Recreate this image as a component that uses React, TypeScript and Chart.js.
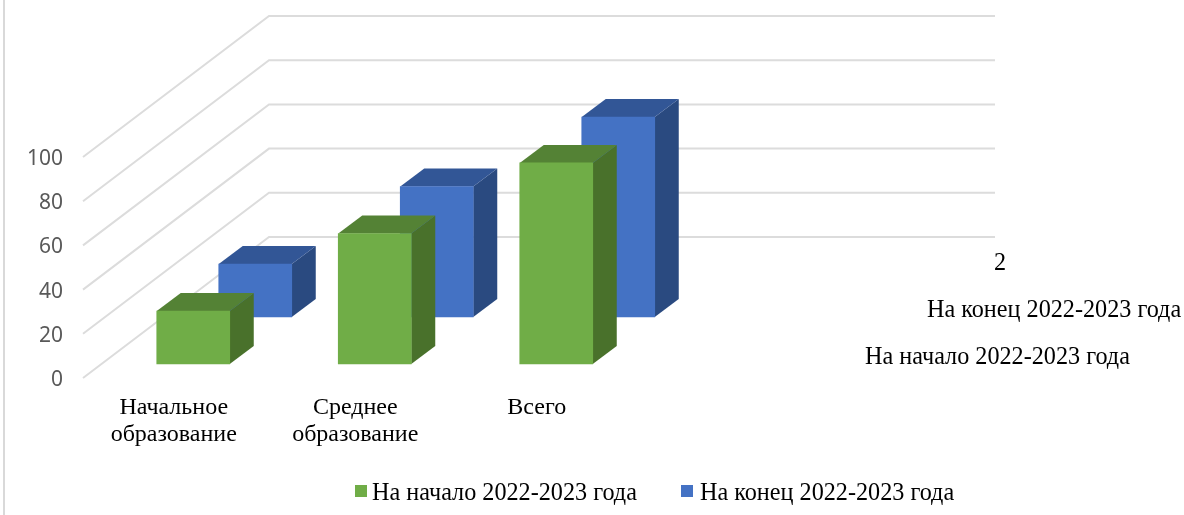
import React, { useEffect, useRef } from "react";
import { Chart, registerables } from "chart.js";

Chart.register(...registerables);

const categories: (string | string[])[] = [["Начальное", "образование"], ["Среднее", "образование"], "Всего", ""];
const seriesStartLabel = "На начало 2022-2023 года";
const seriesEndLabel = "На конец 2022-2023 года";
const seriesStart = [24, 59, 91, null];
const seriesEnd = [24, 59, 90.5, null];
const yTicks = [0, 20, 40, 60, 80, 100];
const depthLabels = [
  { text: seriesStartLabel, x: 865, y: 358 },
  { text: seriesEndLabel, x: 927, y: 311 },
  { text: "2", x: 994, y: 264 },
];

const SERIF = '"Liberation Serif", serif';
const WALL_DX = 186;
const WALL_DY = 141;
const WALL_RIGHT = 995;
const BAR_DX = 24;
const BAR_DY = 18;
const GRID = "#dcdcdc";

// x/y shift of each series inside the 3D box, plus its side and top shades
const looks = [
  { dx: 19.5, dy: -14, front: "#70AD47", side: "#49712B", top: "#548235" },
  { dx: 81.5, dy: -61, front: "#4472C4", side: "#2A4A80", top: "#325696" },
];

const box3d = {
  id: "box3d",
  beforeDraw(chart: any) {
    const { ctx, height } = chart;
    ctx.save();
    ctx.strokeStyle = "#d9d9d9";
    ctx.lineWidth = 2;
    ctx.beginPath();
    ctx.moveTo(4, 0);
    ctx.lineTo(4, height);
    ctx.stroke();
    ctx.restore();
  },
  beforeDatasetsDraw(chart: any) {
    const { ctx, chartArea, scales } = chart;
    ctx.save();
    ctx.strokeStyle = GRID;
    ctx.lineWidth = 2;
    for (const v of yTicks) {
      const py = scales.y.getPixelForValue(v);
      ctx.beginPath();
      ctx.moveTo(chartArea.left, py);
      ctx.lineTo(chartArea.left + WALL_DX, py - WALL_DY);
      ctx.lineTo(WALL_RIGHT, py - WALL_DY);
      ctx.stroke();
    }
    ctx.restore();
  },
  beforeDatasetDraw(chart: any, args: any) {
    const { ctx } = chart;
    const look = looks[args.index];
    const values = chart.data.datasets[args.index].data;
    ctx.save();
    ctx.translate(look.dx, look.dy);
    args.meta.data.forEach((bar: any, i: number) => {
      if (values[i] == null) return;
      const l = bar.x - bar.width / 2;
      const r = bar.x + bar.width / 2;
      ctx.fillStyle = look.side;
      ctx.beginPath();
      ctx.moveTo(r, bar.y);
      ctx.lineTo(r + BAR_DX, bar.y - BAR_DY);
      ctx.lineTo(r + BAR_DX, bar.base - BAR_DY);
      ctx.lineTo(r, bar.base);
      ctx.closePath();
      ctx.fill();
      ctx.fillStyle = look.top;
      ctx.beginPath();
      ctx.moveTo(l, bar.y);
      ctx.lineTo(l + BAR_DX, bar.y - BAR_DY);
      ctx.lineTo(r + BAR_DX, bar.y - BAR_DY);
      ctx.lineTo(r, bar.y);
      ctx.closePath();
      ctx.fill();
    });
  },
  afterDatasetDraw(chart: any) {
    chart.ctx.restore();
  },
  afterDraw(chart: any) {
    const { ctx, data } = chart;
    ctx.save();
    ctx.fillStyle = "#000";
    ctx.font = `24.2px ${SERIF}`;
    ctx.textBaseline = "middle";
    ctx.textAlign = "left";
    for (const d of depthLabels) ctx.fillText(d.text, d.x, d.y);
    // legend
    const slots = [
      { box: 355, text: 372 },
      { box: 681, text: 700 },
    ];
    data.datasets.forEach((ds: any, i: number) => {
      ctx.fillStyle = ds.backgroundColor;
      ctx.fillRect(slots[i].box, 485, 12, 12);
      ctx.fillStyle = "#000";
      ctx.fillText(ds.label, slots[i].text, 494);
    });
    ctx.restore();
  },
};

export default function App() {
  const ref = useRef<HTMLCanvasElement>(null);
  useEffect(() => {
    const chart = new Chart(ref.current!, {
      type: "bar",
      data: {
        labels: categories as any,
        datasets: [
          { label: seriesStartLabel, data: seriesStart, backgroundColor: looks[0].front, grouped: false, barThickness: 73, clip: false } as any,
          { label: seriesEndLabel, data: seriesEnd, backgroundColor: looks[1].front, grouped: false, barThickness: 73, clip: false } as any,
        ],
      },
      options: {
        animation: false,
        responsive: false,
        devicePixelRatio: 1,
        layout: { padding: { top: 157, right: 375, left: 0, bottom: 0 } },
        plugins: { legend: { display: false }, tooltip: { enabled: false }, title: { display: false } },
        scales: {
          x: {
            grid: { display: false },
            border: { display: false },
            afterFit: (s: any) => { s.height = 137; },
            ticks: {
              autoSkip: false,
              maxRotation: 0,
              minRotation: 0,
              padding: 8,
              color: "#000",
              font: { family: SERIF, size: 24, lineHeight: 1.125 },
            },
          },
          y: {
            min: 0,
            max: 100,
            grid: { display: false, drawTicks: false },
            border: { display: false },
            afterFit: (s: any) => { s.width = 83; },
            ticks: {
              stepSize: 20,
              padding: 20,
              labelOffset: 2,
              color: "#595959",
              font: { family: '"Noto Sans", sans-serif', size: 21 },
            },
          },
        },
      },
      plugins: [box3d],
    } as any);
    return () => chart.destroy();
  }, []);
  return (
    <canvas
      ref={ref}
      width={1184}
      height={515}
      style={{ position: "absolute", left: 0, top: 0, display: "block", width: 1184, height: 515 }}
    />
  );
}
